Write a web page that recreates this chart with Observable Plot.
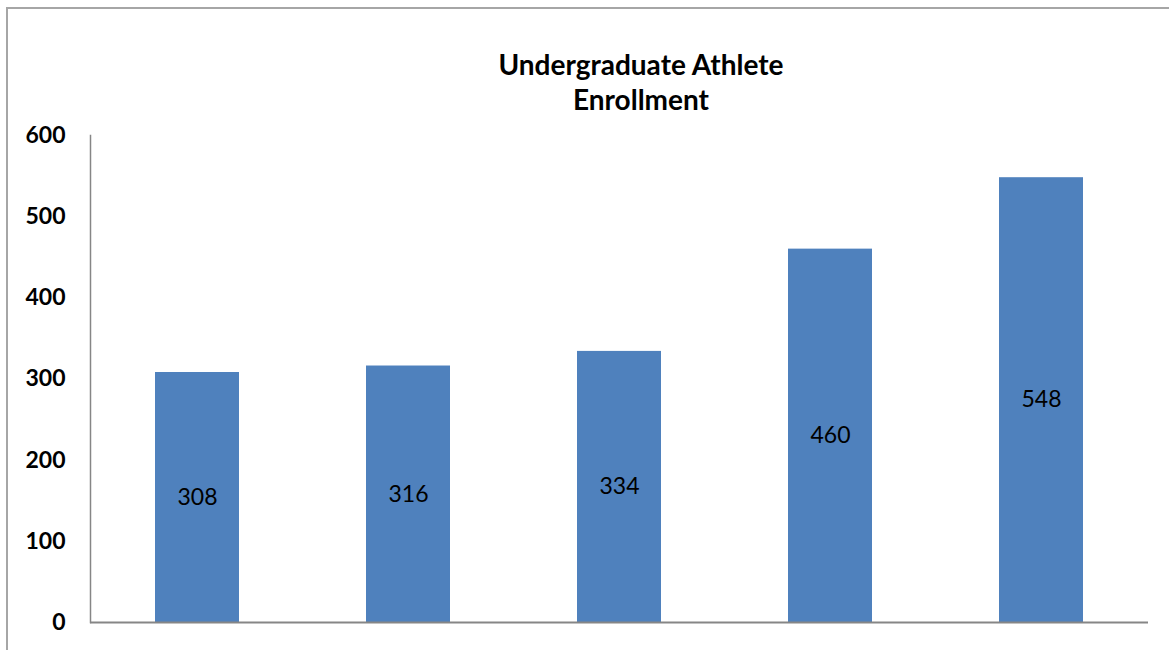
<!DOCTYPE html>
<html>
<head>
<meta charset="utf-8">
<script src="https://cdn.jsdelivr.net/npm/d3@7"></script>
<script src="https://cdn.jsdelivr.net/npm/@observablehq/plot@0.6"></script>
<style>
  html, body { margin: 0; padding: 0; background: #fff; width: 1169px; height: 650px; overflow: hidden; }
  #frame { position: absolute; left: 6px; top: 7px; width: 1200px; height: 700px; border-left: 2px solid #a6a6a6; border-top: 2px solid #a6a6a6; }
  #title { position: absolute; left: 0; width: 1282px; top: 47px; text-align: center; font-family: "Lato", "Open Sans", sans-serif; font-weight: bold; font-size: 28px; line-height: 35px; color: #000; }
  #chart { position: absolute; left: 0; top: 0; }
</style>
</head>
<body>
<div id="frame"></div>
<div id="chart"></div>
<div id="title">Undergraduate Athlete<br>Enrollment</div>
<script>
const categories = ["1", "2", "3", "4", "5"];
const values = [308, 316, 334, 460, 548];
const yTicks = [0, 100, 200, 300, 400, 500, 600];

const data = categories.map((c, i) => ({cat: c, value: values[i]}));

const chart = Plot.plot({
  width: 1169,
  height: 650,
  marginLeft: 90,
  marginRight: 21,
  marginTop: 135,
  marginBottom: 28,
  style: {fontFamily: "Lato, 'Open Sans', sans-serif", background: "transparent"},
  x: {domain: categories, paddingInner: 0.6, paddingOuter: 0.3, axis: null},
  y: {domain: [0, 600], ticks: yTicks, axis: null},
  marks: [
    Plot.barY(data, {x: "cat", y: "value", fill: "#4F81BD"}),
    Plot.text(data, {x: "cat", y: d => d.value / 2, text: d => String(d.value), fontSize: 23, fill: "#000"}),
    Plot.axisY({ticks: yTicks, tickSize: 0, tickPadding: 25, label: null, fontSize: 23, fontWeight: "bold", fill: "#000"}),
    Plot.frame({anchor: "left", stroke: "#868686", strokeWidth: 1.5}),
    Plot.ruleY([0], {stroke: "#868686", strokeWidth: 2})
  ]
});
document.getElementById("chart").appendChild(chart);
</script>
</body>
</html>
